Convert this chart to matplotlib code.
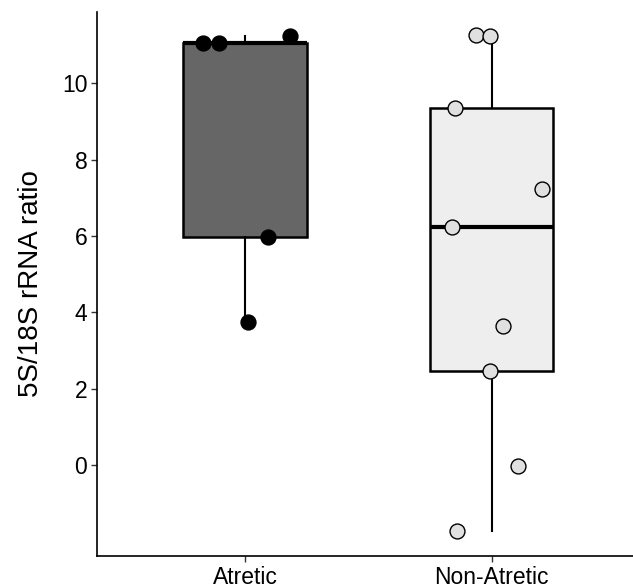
import numpy as np
import matplotlib
matplotlib.use("Agg")
import matplotlib.pyplot as plt

plt.rcParams['font.family'] = ['Liberation Sans', 'DejaVu Sans']

groups = ['Atretic', 'Non-Atretic']
atretic = [11.05, 11.07, 11.25, 5.97, 3.75]
atretic_jitter = [-0.171, -0.106, 0.183, 0.093, 0.012]
non_atretic = [11.27, 11.24, 9.36, 7.23, 6.24, 3.64, 2.46, -0.03, -1.73]
non_atretic_jitter = [-0.065, -0.008, -0.15, 0.203, -0.159, 0.045, -0.008, 0.106, -0.142]

box_colors = ['#666666', '#EEEEEE']
point_fill = ['#000000', '#E0E0E0']

fig = plt.figure(figsize=(6.33, 5.88), dpi=100)
ax = fig.add_axes([0.1532, 0.0544, 0.8468, 0.9252])

bp = ax.boxplot([atretic, non_atretic], positions=[1, 2], widths=0.5,
                whis=1.5, showfliers=False, patch_artist=True,
                medianprops=dict(color='black', linewidth=3.0),
                boxprops=dict(edgecolor='black', linewidth=1.8),
                whiskerprops=dict(color='black', linewidth=1.5),
                capprops=dict(linewidth=0))
for patch, c in zip(bp['boxes'], box_colors):
    patch.set_facecolor(c)

# jittered points on top of the boxes
for i, (vals, jit) in enumerate([(atretic, atretic_jitter), (non_atretic, non_atretic_jitter)]):
    x = [i + 1 + j for j in jit]
    ax.scatter(x, vals, s=115, facecolor=point_fill[i], edgecolor='black',
               linewidth=1.0, zorder=5)

ax.set_xlim(0.4, 2.573)
ax.set_ylim(-2.385, 11.87)
ax.set_xticks([1, 2])
ax.set_xticklabels(groups)
ax.set_yticks([0, 2, 4, 6, 8, 10])
ax.tick_params(axis='both', labelsize=16.5, length=4, width=1, color='#333333',
               labelcolor='black', pad=3)
ax.set_ylabel('5S/18S rRNA ratio', fontsize=20, labelpad=13)

for side in ['top', 'right']:
    ax.spines[side].set_visible(False)
for side in ['left', 'bottom']:
    ax.spines[side].set_linewidth(1.2)

fig.savefig('out.png', dpi=100)
